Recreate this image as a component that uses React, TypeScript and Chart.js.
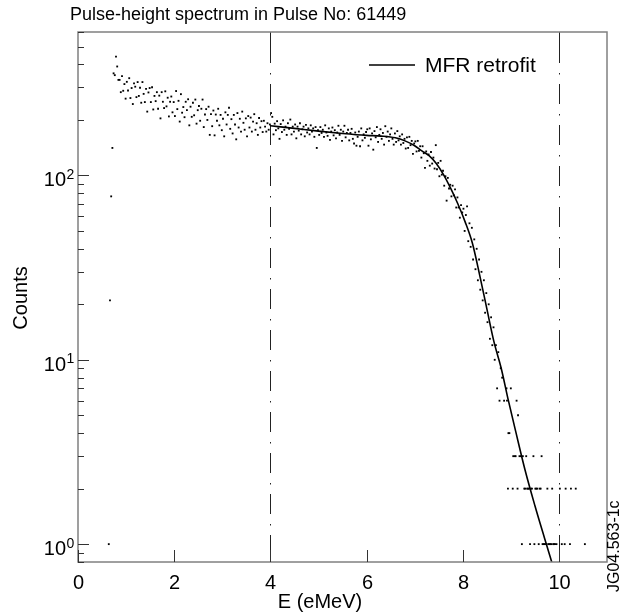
import React, { useEffect, useRef } from "react";
import { Chart, registerables } from "chart.js";

Chart.register(...registerables);

// Energy bins of the measured spectrum (MeV)
const binStart = 0.64;
const binWidth = 0.025;

// Counts per bin
const countsA = [1, 21, 77, 141, 358, 350, 441, 390, 330,
  330, 283, 346, 288, 313, 261, 322, 289, 337, 263, 298, 244, 316, 303, 266, 321, 270, 299, 248, 321,
  277, 250, 295, 222, 282, 298, 250, 301, 228, 270, 253, 283, 230, 271, 204, 283, 251, 232, 286, 237,
  264, 209, 251, 268, 220, 250];
const countsB = [210, 287, 229, 254, 196, 276, 219, 235, 207, 251, 226, 259, 187, 236, 208, 248, 212, 258, 191, 226,
  238, 198, 230, 258, 183, 214, 229, 200, 236, 166, 215, 185, 225, 165, 214, 198, 230, 187, 213, 176,
  203, 163, 220, 189, 213, 233, 179, 202, 169, 213, 189, 157, 218, 182, 203, 173, 222, 193, 177, 204,
  163, 210, 182, 206, 173, 196, 215, 177, 192, 166, 205, 182, 197, 172, 198, 184, 173, 192, 177, 189];
const countsC = [218, 208, 167, 191, 176, 197, 180, 158, 190, 172, 199, 177, 184, 166, 192, 179, 201, 167, 184, 173,
  189, 159, 184, 175, 192, 167, 178, 184, 163, 188, 171, 180, 167, 187, 173, 180, 162, 183, 141, 176,
  166, 183, 170, 177, 162, 187, 171, 164, 180, 156, 173, 182, 165, 176, 159, 171, 186, 166, 177, 154,
  173, 186, 161, 170, 177, 155, 170, 179, 158, 149, 171, 145, 162, 173, 144, 180, 155, 167, 160, 172];
const countsD = [178, 145, 180, 157, 169, 138, 174, 161, 183, 152, 166, 178, 158, 170, 147, 185, 162, 173, 154, 167,
  180, 158, 147, 169, 152, 174, 155, 163, 147, 167, 150, 158, 140, 161, 141, 162, 146, 154, 131, 149];
const countsE = [153, 135, 154, 136, 144, 125, 144, 132, 110, 135, 120, 130, 113, 134, 116, 125, 109, 146, 108, 117,
  99, 120, 101, 106, 88, 99, 73, 97, 85, 89, 77, 88, 78, 84, 67, 76, 67, 59, 69, 63];
const countsF = [66, 50, 61, 68, 44, 55, 41, 52, 35, 45, 31, 40, 27, 35, 24, 30, 21, 27, 18, 23,
  16, 20, 13, 17, 12, 15, 10, 12, 7, 11, 6, 9];

// Sparse high-energy tail (energy, counts)
const tailEnergies = [8.82, 8.86, 8.91, 8.92, 8.94, 8.95, 8.97, 9.0, 9.04, 9.05, 9.08, 9.1, 9.12, 9.14, 9.15, 9.18,
  9.21, 9.23, 9.25, 9.28, 9.3, 9.32, 9.34, 9.36, 9.38, 9.4, 9.42, 9.44, 9.47, 9.49, 9.51, 9.53, 9.55, 9.58,
  9.6, 9.62, 9.64, 9.66, 9.68, 9.7, 9.72, 9.74, 9.76, 9.78, 9.8, 9.82, 9.84, 9.86, 9.88, 9.9, 9.92, 9.95,
  10.02, 10.06, 10.12, 10.14, 10.23, 10.25, 10.35, 10.54];
const tailCounts = [8, 6, 7, 6, 2, 4, 4, 7, 2, 3, 3, 3, 6, 2, 5, 3,
  3, 1, 3, 2, 2, 3, 2, 2, 2, 1, 2, 2, 3, 1, 2, 2, 2, 1,
  2, 2, 3, 1, 1, 1, 1, 1, 2, 1, 1, 1, 1, 2, 1, 1, 1, 1,
  2, 1, 1, 2, 1, 2, 2, 1];

// MFR retrofit curve
const fitEnergies = [4.0, 4.5, 5.0, 5.5, 6.0, 6.3, 6.6, 6.8, 7.0, 7.15, 7.3, 7.45, 7.6, 7.75, 7.9, 8.05,
  8.2, 8.35, 8.5, 8.65, 8.8, 8.95, 9.1, 9.3, 9.5, 9.7, 9.87];
const fitCounts = [186, 180, 174, 169, 165, 163.5, 160, 154, 145, 136, 128, 116, 101, 85, 70, 56,
  43, 29, 19, 12.5, 9.0, 6.0, 4.1, 2.5, 1.62, 1.08, 0.77];

const xTicks = [0, 2, 4, 6, 8, 10];
const yDecades = [0, 1, 2];
const markerLines = [4, 10];

const titleText = "Pulse-height spectrum in Pulse No: 61449";
const xTitle = "E (eMeV)";
const yTitle = "Counts";
const legendText = "MFR retrofit";
const sideNote = "JG04.563-1c";

const FONT = '"Liberation Sans", Arial, Helvetica, sans-serif';

const decorPlugin = {
  id: "decor",
  beforeDatasetsDraw(chart: any) {
    const { ctx, chartArea: a, scales } = chart;
    ctx.save();
    ctx.strokeStyle = "#222";
    ctx.lineWidth = 1;
    for (const v of markerLines) {
      const px = Math.round(scales.x.getPixelForValue(v)) + 0.5;
      ctx.setLineDash([]);
      ctx.beginPath();
      ctx.moveTo(px, a.top);
      ctx.lineTo(px, a.top + 11);
      ctx.stroke();
      ctx.setLineDash([20, 10, 1.5, 9.5]);
      ctx.beginPath();
      ctx.moveTo(px, a.top + 11);
      ctx.lineTo(px, a.bottom);
      ctx.stroke();
    }
    ctx.restore();
  },
  afterDraw(chart: any) {
    const { ctx, chartArea: a, scales } = chart;
    const xs = scales.x;
    const ys = scales.y;
    ctx.save();
    ctx.setLineDash([]);

    // frame
    ctx.strokeStyle = "#808080";
    ctx.lineWidth = 1.5;
    ctx.strokeRect(a.left, a.top, a.right - a.left, a.bottom - a.top);

    // x ticks (inward)
    ctx.strokeStyle = "#333";
    ctx.lineWidth = 1;
    ctx.fillStyle = "#000";
    ctx.font = `20px ${FONT}`;
    ctx.textAlign = "center";
    ctx.textBaseline = "alphabetic";
    for (const t of xTicks) {
      const px = Math.round(xs.getPixelForValue(t)) + 0.5;
      ctx.beginPath();
      ctx.moveTo(px, a.bottom);
      ctx.lineTo(px, a.bottom - 12);
      ctx.stroke();
      ctx.fillText(String(t), px, a.bottom + 27);
    }

    // y ticks (inward), major and minor
    for (let d = -1; d <= 2; d++) {
      for (let m = 1; m <= 9; m++) {
        const v = m * Math.pow(10, d);
        if (v < ys.min || v > ys.max) continue;
        const py = Math.round(ys.getPixelForValue(v)) + 0.5;
        ctx.beginPath();
        ctx.moveTo(a.left, py);
        ctx.lineTo(a.left + (m === 1 ? 11 : 6), py);
        ctx.stroke();
      }
    }
    // y labels 10^n
    for (const d of yDecades) {
      const py = ys.getPixelForValue(Math.pow(10, d));
      ctx.textAlign = "right";
      ctx.font = `20px ${FONT}`;
      ctx.fillText("10", a.left - 12, py + 11);
      ctx.textAlign = "left";
      ctx.font = `14px ${FONT}`;
      ctx.fillText(String(d), a.left - 11.5, py + 3.5);
    }

    // titles
    ctx.font = `18px ${FONT}`;
    ctx.textAlign = "left";
    ctx.fillText(titleText, 70, 20);
    ctx.font = `20px ${FONT}`;
    ctx.textAlign = "center";
    ctx.fillText(xTitle, 320, 608);
    ctx.save();
    ctx.translate(27, 298);
    ctx.rotate(-Math.PI / 2);
    ctx.fillText(yTitle, 0, 0);
    ctx.restore();

    // legend
    ctx.strokeStyle = "#000";
    ctx.lineWidth = 1.6;
    ctx.beginPath();
    ctx.moveTo(369, 65);
    ctx.lineTo(415, 65);
    ctx.stroke();
    ctx.font = `21px ${FONT}`;
    ctx.textAlign = "left";
    ctx.fillText(legendText, 425, 72);

    // side note
    ctx.save();
    ctx.translate(619, 592);
    ctx.rotate(-Math.PI / 2);
    ctx.font = `16px ${FONT}`;
    ctx.textAlign = "left";
    ctx.fillText(sideNote, 0, 0);
    ctx.restore();

    ctx.restore();
  },
};

export default function App() {
  const ref = useRef<HTMLCanvasElement | null>(null);

  useEffect(() => {
    document.body.style.margin = "0";
    const all = [...countsA, ...countsB, ...countsC, ...countsD, ...countsE, ...countsF];
    const points = all.map((c, i) => ({ x: binStart + i * binWidth, y: c }));
    tailEnergies.forEach((e, i) => points.push({ x: e, y: tailCounts[i] }));
    const fit = fitEnergies.map((e, i) => ({ x: e, y: fitCounts[i] }));

    const chart = new Chart(ref.current as HTMLCanvasElement, {
      type: "scatter",
      data: {
        datasets: [
          {
            label: "data",
            data: points,
            showLine: false,
            pointStyle: "rect",
            pointRadius: 1.3,
            pointBorderWidth: 0,
            backgroundColor: "#000",
            borderColor: "#000",
          } as any,
          {
            label: legendText,
            data: fit,
            showLine: true,
            borderColor: "#000",
            borderWidth: 1.6,
            pointRadius: 0,
            cubicInterpolationMode: "monotone",
            fill: false,
          } as any,
        ],
      },
      options: {
        responsive: false,
        animation: false,
        layout: { padding: { left: 78, right: 13, top: 32, bottom: 53 } },
        scales: {
          x: { type: "linear", min: 0, max: 11, display: false },
          y: { type: "logarithmic", min: 0.8, max: 600, display: false },
        },
        plugins: { legend: { display: false }, tooltip: { enabled: false }, title: { display: false } },
      },
      plugins: [decorPlugin],
    });
    return () => chart.destroy();
  }, []);

  return (
    <div style={{ position: "absolute", left: 0, top: 0 }}>
      <canvas ref={ref} width={620} height={615} style={{ width: 620, height: 615, display: "block" }} />
    </div>
  );
}
